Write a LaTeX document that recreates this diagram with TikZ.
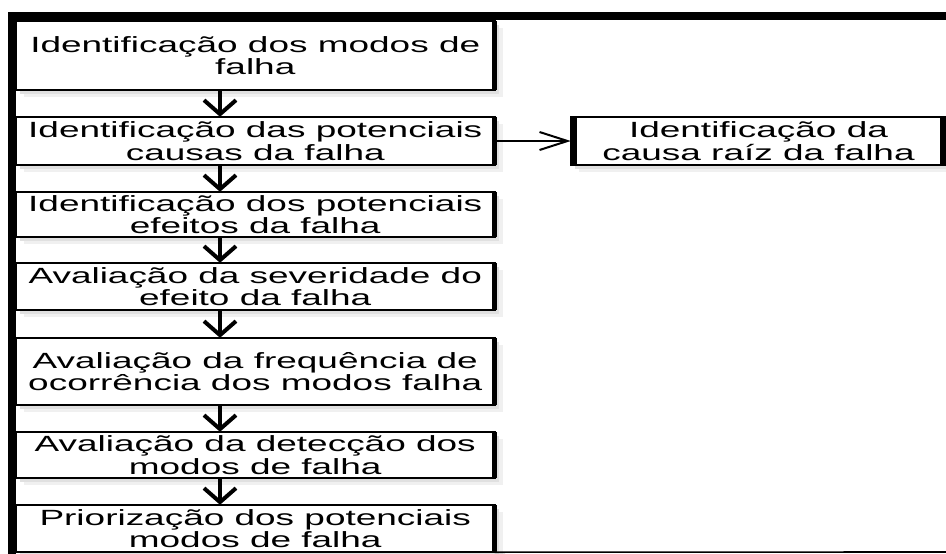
\documentclass[tikz,border=0pt]{standalone}
\usepackage{fontspec}
\setmainfont{Liberation Sans}
\newfontfamily\boxfont{Liberation Sans}[FakeStretch=1.68]
\usetikzlibrary{arrows.meta,backgrounds,calc}
\tikzset{
  box/.style={fill=white, inner sep=0pt, align=center,
    font=\boxfont\fontsize{22}{22.5}\selectfont, text=black},
  thinedge/.style={line width=1.6pt},
  thickedge/.style={line width=5pt},
  rthick/.style={line width=6pt},
  downarrow/.style={line width=4pt, -{Straight Barb[length=14pt,width=32pt]}},
  sidearrow/.style={line width=2pt, -{Straight Barb[length=28pt,width=18pt]}},
  softshadow/.style={fill=black!6},
  hardshadow/.style={fill=black!12}
}
\begin{document}
\begin{tikzpicture}[x=1pt,y=-1pt]
\useasboundingbox (0,0) rectangle (946,554);

% boxes of the left column
\node[box, minimum width=478.5pt, minimum height=69pt] (b1) at (255.25,55.5)
  {Identificação dos modos de\\falha};
\node[box, minimum width=478.5pt, minimum height=48pt] (b2) at (255.25,141)
  {Identificação das potenciais\\causas da falha};
\node[box, minimum width=478.5pt, minimum height=45pt] (b3) at (255.25,214.5)
  {Identificação dos potenciais\\efeitos da falha};
\node[box, minimum width=478.5pt, minimum height=47pt] (b4) at (255.25,286.5)
  {Avaliação da severidade do\\efeito da falha};
\node[box, minimum width=478.5pt, minimum height=67pt] (b5) at (255.25,371.5)
  {Avaliação da frequência de\\ocorrência dos modos falha};
\node[box, minimum width=478.5pt, minimum height=46pt] (b6) at (255.25,455)
  {Avaliação da detecção dos\\modos de falha};
\node[box, minimum width=478.5pt, minimum height=47pt] (b7) at (255.25,528.5)
  {Priorização dos potenciais\\modos de falha};

% box on the right
\node[box, minimum width=375pt, minimum height=48pt] (r) at (758.5,141)
  {Identificação da\\causa raíz da falha};

% shadows and white page on the background layer
\begin{scope}[on background layer]
  \fill[white] (0,0) rectangle (946,554);
  \foreach \n in {b1,b2,b3,b4,b5,b6,b7,r} {
    \fill[softshadow] ($(\n.north west)+(8,7)$) rectangle ($(\n.south east)+(8,7)$);
    \fill[hardshadow] ($(\n.north west)+(4,4)$) rectangle ($(\n.south east)+(4,4)$);
  }
\end{scope}

% borders of the boxes
\foreach \n in {b1,b2,b3,b4,b5,b6,b7} {
  \draw[thinedge] (\n.north west) rectangle (\n.south east);
  \draw[thickedge] (\n.north east) -- (\n.south east);
}
\draw[thinedge] (r.north west) rectangle (r.south east);
\draw[rthick] ($(r.north west)+(3,0)$) -- ($(r.south west)+(3,0)$);
\draw[rthick] ($(r.north east)+(-3,0)$) -- ($(r.south east)+(-3,0)$);

% outer frame
\fill (8,12) rectangle (946,20);
\fill (8,12) rectangle (16,554);
\coordinate (fe) at (946,552);
\draw[thinedge] (b7.south east) -- (fe);

% connectors
\coordinate (xa) at (220,0);
\foreach \a/\b in {b1/b2,b2/b3,b3/b4,b4/b5,b5/b6,b6/b7}
  \draw[downarrow] (\a.south -| xa) -- (\b.north -| xa);
\draw[sidearrow] (b2.east) -- (r.west);
\end{tikzpicture}
\end{document}
